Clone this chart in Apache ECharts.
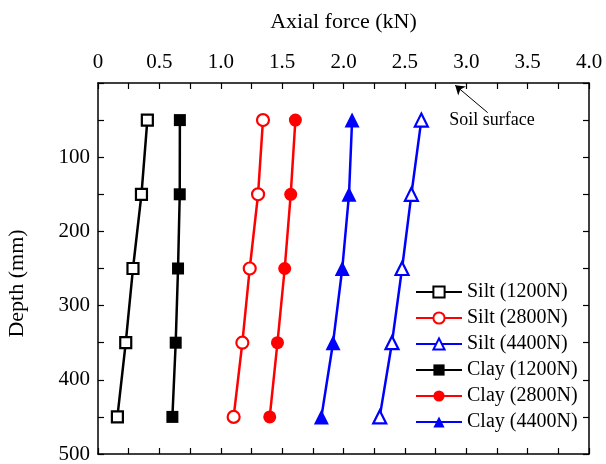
<!DOCTYPE html>
<html>
<head>
<meta charset="utf-8">
<script src="https://cdn.jsdelivr.net/npm/echarts@6/dist/echarts.min.js"></script>
<style>html,body{margin:0;padding:0;background:#fff}#c{width:606px;height:464px}</style>
</head>
<body>
<div id="c"></div>
<script>
var depths = [50, 150, 250, 350, 450];
var silt1200 = [0.402, 0.354, 0.285, 0.226, 0.158];
var silt2800 = [1.344, 1.304, 1.236, 1.176, 1.105];
var silt4400 = [2.634, 2.553, 2.477, 2.395, 2.295];
var clay1200 = [0.667, 0.666, 0.652, 0.633, 0.606];
var clay2800 = [1.608, 1.570, 1.521, 1.462, 1.399];
var clay4400 = [2.070, 2.045, 1.990, 1.915, 1.820];
var seriesNames = ['Silt (1200N)', 'Silt (2800N)', 'Silt (4400N)', 'Clay (1200N)', 'Clay (2800N)', 'Clay (4400N)'];
var annotationText = 'Soil surface';
var arrowTail = [3.175, 40];
var arrowHead = [2.91, 3];
var annotationAt = [3.21, 50];

var FONT = '"Liberation Serif", "Times New Roman", serif';
function pairs(xs){ return xs.map(function(v,i){ return [v, depths[i]]; }); }

function mk(name, vals, color, symbol, hollow, size){
  return {
    name: name, type: 'line', data: pairs(vals),
    xAxisIndex: 0, yAxisIndex: 0,
    symbol: symbol, symbolSize: size, showAllSymbol: true,
    lineStyle: {color: color, width: 2.5},
    itemStyle: hollow ? {color: '#fff', borderColor: color, borderWidth: 2.2} : {color: color, borderColor: color, borderWidth: 0},
    emphasis: {disabled: true},
    z: 3
  };
}

var series = [
  mk(seriesNames[0], silt1200, '#000000', 'rect', true, 11),
  mk(seriesNames[1], silt2800, '#ff0000', 'circle', true, 12),
  mk(seriesNames[2], silt4400, '#0000ff', 'triangle', true, 13),
  mk(seriesNames[3], clay1200, '#000000', 'rect', false, 12),
  mk(seriesNames[4], clay2800, '#ff0000', 'circle', false, 13),
  mk(seriesNames[5], clay4400, '#0000ff', 'triangle', false, 15),
  {
    name: 'annot', type: 'line', data: [], xAxisIndex: 0, yAxisIndex: 0,
    markLine: {
      silent: true, animation: false,
      symbol: ['none', 'arrow'], symbolSize: 9,
      lineStyle: {color: '#000', width: 1, type: 'solid'},
      itemStyle: {color: '#000'},
      label: {show: false},
      data: [[{coord: arrowTail}, {coord: arrowHead}]]
    },
    markPoint: {
      silent: true, animation: false,
      data: [{coord: annotationAt, symbol: 'circle', symbolSize: 1, itemStyle: {color: 'rgba(0,0,0,0)'},
        label: {show: true, position: 'inside', formatter: annotationText, color: '#000', fontFamily: FONT, fontSize: 18}}]
    }
  }
];

var axisLine = {show: true, onZero: false, lineStyle: {color: '#000', width: 1.5}};
var tick = {show: true, inside: true, length: 6, lineStyle: {color: '#000', width: 1.2}};
var minor = {show: true, splitNumber: 2, length: 6, lineStyle: {color: '#000', width: 1.2}};
var chart = echarts.init(document.getElementById('c'), null, {renderer: 'canvas'});
chart.setOption({
  animation: false,
  backgroundColor: '#fff',
  grid: {left: 98, right: 17, top: 83, bottom: 10, containLabel: false, outerBoundsMode: 'none'},
  legend: {
    data: seriesNames,
    orient: 'vertical', left: 415, top: 282, padding: 0,
    itemWidth: 46, itemHeight: 14, itemGap: 6,
    textStyle: {fontFamily: FONT, fontSize: 20, color: '#000', lineHeight: 20},
    selectedMode: false
  },
  xAxis: [
    {
      type: 'value', position: 'top', min: 0, max: 4, interval: 0.5,
      name: 'Axial force (kN)', nameLocation: 'middle', nameGap: 50,
      nameTextStyle: {fontFamily: FONT, fontSize: 22, color: '#000'},
      axisLine: axisLine, axisTick: tick, minorTick: minor,
      axisLabel: {fontFamily: FONT, fontSize: 21, color: '#000', margin: 10,
        formatter: function(v){ return v === 0 ? '0' : v.toFixed(1); }},
      splitLine: {show: false}
    },
    {
      type: 'value', position: 'bottom', min: 0, max: 4, interval: 0.5,
      axisLine: axisLine, axisTick: tick, minorTick: minor,
      axisLabel: {show: false}, splitLine: {show: false}
    }
  ],
  yAxis: [
    {
      type: 'value', inverse: true, position: 'left', min: 0, max: 500, interval: 100,
      name: 'Depth (mm)', nameLocation: 'middle', nameGap: 70, nameRotate: 90,
      nameTextStyle: {fontFamily: FONT, fontSize: 22, color: '#000', padding: [0, 30, 0, 0]},
      axisLine: axisLine, axisTick: tick, minorTick: minor,
      axisLabel: {fontFamily: FONT, fontSize: 21, color: '#000', margin: 8,
        formatter: function(v){ return v === 0 ? '' : String(v); }},
      splitLine: {show: false}
    },
    {
      type: 'value', inverse: true, position: 'right', min: 0, max: 500, interval: 100,
      axisLine: axisLine, axisTick: tick, minorTick: minor,
      axisLabel: {show: false}, splitLine: {show: false}
    }
  ],
  series: series
});
</script>
</body>
</html>
